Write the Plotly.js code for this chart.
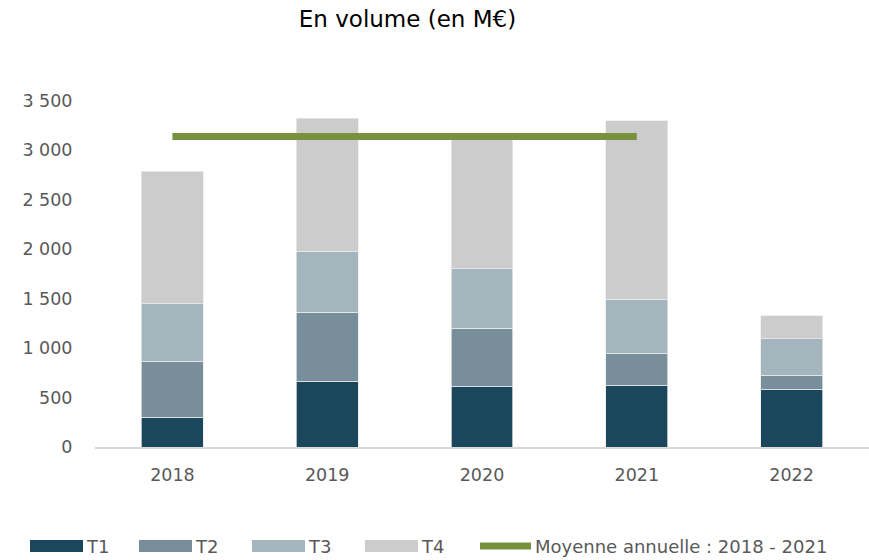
<!DOCTYPE html>
<html>
<head>
<meta charset="utf-8">
<script src="https://cdn.plot.ly/plotly-3.0.1.min.js"></script>
<style>html,body{margin:0;padding:0;background:#fff;}#chart{width:869px;height:560px;}</style>
</head>
<body>
<div id="chart"></div>
<script>
// ---- Data ----
const years = ["2018", "2019", "2020", "2021", "2022"];
const seriesNames = ["T1", "T2", "T3", "T4"];
const t1 = [302, 664, 616, 623, 586];
const t2 = [567, 699, 584, 324, 141];
const t3 = [578, 618, 605, 547, 365];
const t4 = [1341, 1344, 1341, 1803, 233];
const avgYears = ["2018", "2019", "2020", "2021"];
const avgName = "Moyenne annuelle : 2018 - 2021";
const yTickVals = [0, 500, 1000, 1500, 2000, 2500, 3000, 3500];

// annual average 2018-2021 from the totals
const seriesValues = [t1, t2, t3, t4];
const totals = years.map((_, i) => t1[i] + t2[i] + t3[i] + t4[i]);
const avgValue = avgYears.map(y => totals[years.indexOf(y)]).reduce((a, b) => a + b, 0) / avgYears.length;
const avgLine = avgYears.map(() => avgValue);

// ---- Styles ----
const colors = ["#1b475c", "#788f9b", "#a5b5bd", "#cccccc"];
const lineColor = "#77913f";
const textColor = "#595959";
const fontFam = "DejaVu Sans, Open Sans, sans-serif";

const W = 869, H = 560;
const M = {l: 95, r: 0, t: 81, b: 113};
const PW = W - M.l - M.r, PH = H - M.t - M.b;
const px = p => (p - M.l) / PW;
const py = p => (H - M.b - p) / PH;

const traces = seriesValues.map((vals, i) => ({
  type: "bar",
  name: seriesNames[i],
  x: years,
  y: vals,
  marker: {color: colors[i], line: {color: "rgba(235,235,235,0.9)", width: 0.8}},
  hoverinfo: "skip",
  showlegend: false
}));
traces.push({
  type: "scatter",
  mode: "lines",
  name: avgName,
  x: avgYears,
  y: avgLine,
  line: {color: lineColor, width: 7},
  hoverinfo: "skip",
  showlegend: false
});

// ---- custom legend (shapes + annotations) ----
const legY = 546;
const swatchX = [30, 139, 252, 365];
const swatchW = 53;
const shapes = [];
const annotations = [];
seriesNames.forEach((n, i) => {
  shapes.push({
    type: "rect", xref: "paper", yref: "paper",
    x0: px(swatchX[i]), x1: px(swatchX[i] + swatchW),
    y0: py(legY + 6), y1: py(legY - 6),
    fillcolor: colors[i], line: {width: 0}
  });
  annotations.push({
    xref: "paper", yref: "paper",
    x: px(swatchX[i] + swatchW + 1), y: py(legY),
    xanchor: "left", yanchor: "middle",
    text: n, showarrow: false,
    font: {family: fontFam, size: 18, color: textColor}
  });
});
shapes.push({
  type: "line", xref: "paper", yref: "paper",
  x0: px(480), x1: px(531), y0: py(legY), y1: py(legY),
  line: {color: lineColor, width: 7}
});
annotations.push({
  xref: "paper", yref: "paper",
  x: px(533), y: py(legY),
  xanchor: "left", yanchor: "middle",
  text: avgName, showarrow: false,
  font: {family: fontFam, size: 18, color: textColor}
});

const layout = {
  width: W, height: H,
  margin: M,
  paper_bgcolor: "#ffffff",
  plot_bgcolor: "#ffffff",
  barmode: "stack",
  bargap: 0.6,
  showlegend: false,
  font: {family: fontFam, color: textColor},
  title: {
    text: "En volume (en M€)",
    font: {family: fontFam, size: 23, color: "#000000"},
    xref: "container", yref: "container",
    x: 407.5 / W, xanchor: "center",
    y: 1 - 19 / H, yanchor: "middle"
  },
  xaxis: {
    type: "category",
    showline: true, linecolor: "#d9d9d9", linewidth: 2,
    showgrid: false, zeroline: false,
    ticks: "outside", ticklen: 11, tickcolor: "rgba(0,0,0,0)",
    tickfont: {family: fontFam, size: 17.5, color: textColor}
  },
  yaxis: {
    range: [0, 3700],
    tickvals: yTickVals,
    separatethousands: true,
    showline: false, showgrid: false, zeroline: false,
    ticks: "outside", ticklen: 18, tickcolor: "rgba(0,0,0,0)",
    tickfont: {family: fontFam, size: 17.5, color: textColor}
  },
  separators: ", ",
  shapes: shapes,
  annotations: annotations
};

Plotly.newPlot("chart", traces, layout, {displayModeBar: false, staticPlot: true});
</script>
</body>
</html>
